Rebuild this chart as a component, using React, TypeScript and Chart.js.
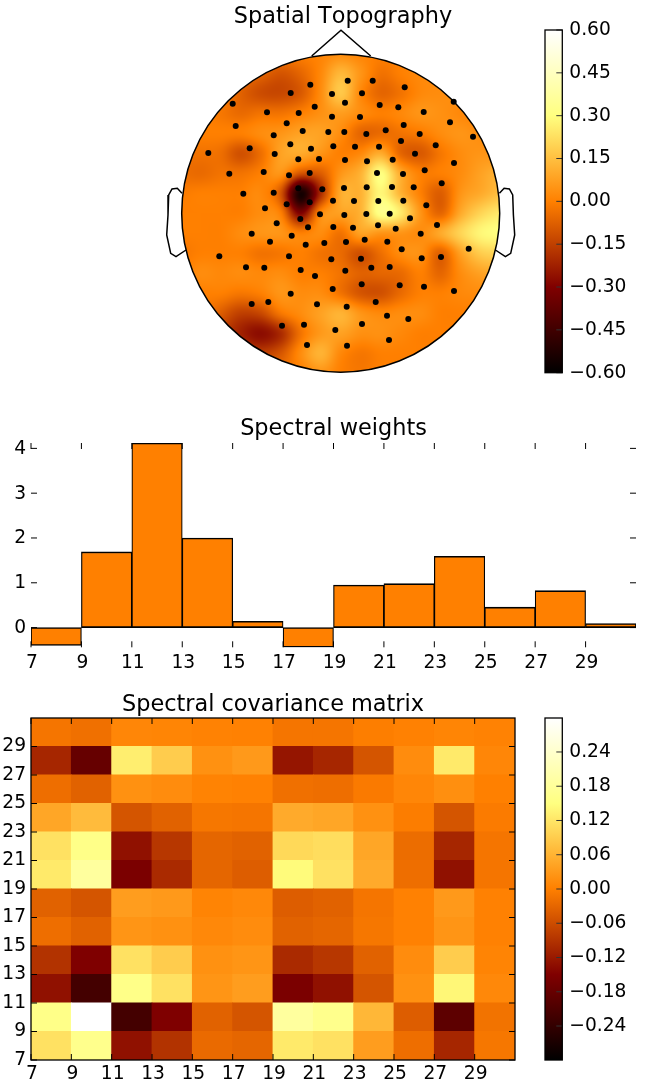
import React, { useEffect, useRef } from "react";
import { Chart, registerables } from "chart.js";

Chart.register(...registerables);

const FONT = "'DejaVu Sans'";
const TICK_SIZE = 18.67;
const TITLE_SIZE = 22.4;

// ---- Spatial topography ----
const electrodeX = [7,32,-30.4,64,-50,-8.7,21.3,-108,113,4.3,39,57.6,-73.7,-42,-26,83,-8.7,19.3,-54,109.3,63,-105,-38,-12.4,3.6,45,25.6,-67,79,132.3,60.3,-50.4,-7.4,14.3,38.3,95,-91,-29.7,-132.4,-66,74.3,-42.4,-21.7,4.3,26.3,52,113.3,-77,-111.4,-31,36.3,62.3,84,-51.7,101,3.3,26,51.3,73,-18.4,-42.4,-97.4,-67,-54,-31,-7.7,13.3,37.6,62.6,85.6,-75.7,-40.4,-20.7,3.6,25.6,49,69.3,-64,-32.7,-7.4,12.3,37.3,55,96.3,-89,-49,80,-70.7,-35,-16.4,5.3,24,46.6,61,128,-121.4,-51.7,-9.4,20.3,81,100.3,-94.7,-76.4,-40,-25.7,4.6,30.6,49,-8,21,59,83.3,113.3,-50,-89,-72.4,-23.7,6,35,46.3,67.6,-58.7,-36.7,-5.4,21.3,-33.7,6.3,48.3];
const electrodeY = [132.5,132.5,128.5,125.9,120.2,119.2,119.9,109.5,111.5,110.5,108.2,105.9,100.9,100.2,106.5,101.2,96.5,96.2,89.9,90.9,88.2,87.2,82.2,81.2,81.2,82.9,79.2,77.9,79.2,76.5,72.2,68.9,66.9,66.5,66.5,67.9,64.9,64.5,60.2,59.2,59.5,53.9,54.2,53.2,51.9,53.5,50.2,41.2,39.5,40.2,40.2,39.2,42.9,37.9,29.9,25.2,25.9,26.2,25.9,23.9,24.9,19.5,20.5,8.9,10.9,12.5,12.2,12.2,12.5,7.9,4.9,-5.8,-1.1,-1.8,-0.8,-0.5,-5.1,-10.1,-14.1,-13.8,-14.5,-12.1,-15.5,-11.8,-20.5,-22.5,-20.5,-28.5,-31.5,-29.8,-28.8,-26.5,-28.5,-36.1,-35.5,-43.1,-43.1,-46.1,-45.5,-45.1,-43.8,-54.1,-54.5,-56.8,-62.8,-57.5,-54.5,-53.8,-75.8,-71.1,-72.1,-73.5,-77.8,-80.5,-90.8,-88.8,-91.1,-93.5,-88.8,-102.5,-105.8,-112.5,-111.5,-116.8,-110.8,-131.8,-132.5,-126.8];

const noseX = [-29, 0.3, 30];
const noseY = [157.2, 182.9, 157.2];
const earX = [158.7,163.4,168.7,172,172.7,174,170,164.7,154.7];
const earY = [19.9,24.9,24.2,18.2,-1.8,-21.8,-40.1,-43.5,-36.8];
const headRadius = 159;

// Field on a grid, 20 units apart, rows from top to bottom
const fieldStep = 20;
const fieldOrigin = -160;
const fieldRows = [
  [0,0,0,0,0,0,0,.01,.03,.01,0,0,0,0,0,0,0],
  [0,0,0,-.03,-.06,-.1,-.06,.02,.13,.05,-.03,0,.02,.02,0,0,0],
  [0,0,0,-.07,-.12,-.13,-.09,.03,.17,.02,-.06,-.03,.02,.03,.03,0,0],
  [0,0,-.02,-.05,-.03,-.03,0,.04,.07,.03,0,.02,.05,.04,.02,0,0],
  [0,0,0,0,.03,.05,.08,.08,.03,-.06,-.05,-.03,-.01,.03,.05,.03,.02],
  [-.03,-.03,-.04,-.11,-.04,.08,.1,.05,0,.02,.1,-.06,-.09,-.02,.03,.05,.04],
  [-.04,-.05,-.03,-.03,0,.05,-.1,-.08,.05,.12,.3,.1,0,0,.03,.08,.12],
  [-.01,0,0,0,.02,-.1,-.55,-.2,.1,.12,.28,.12,0,-.08,.05,.1,.15],
  [0,0,0,0,.03,0,-.3,.02,.08,.12,.32,.25,.05,-.06,.1,.2,.25],
  [0,0,0,.03,.05,.05,0,.03,-.03,.08,.05,.05,.03,.1,.2,.28,.3],
  [-.02,0,0,0,-.03,-.02,0,-.03,-.05,-.11,-.04,.03,.04,-.07,.08,.18,.2],
  [0,.03,.02,.03,.02,.03,0,0,-.03,-.07,-.06,-.05,0,-.06,.03,.08,.1],
  [0,0,0,-.02,0,.05,.03,.03,-.03,-.1,-.11,-.05,0,0,.02,.03,.03],
  [0,0,-.08,-.15,-.13,-.02,.03,.08,.12,.05,.02,.03,.03,0,0,0,0],
  [0,0,-.13,-.22,-.27,-.2,-.03,.06,.08,.04,.04,.02,0,0,0,0,0],
  [0,0,-.08,-.12,-.15,-.1,.03,.12,.02,-.02,0,0,0,0,0,0,0],
  [0,0,0,0,0,-.03,0,.05,0,-.02,0,0,0,0,0,0,0],
];

const topoLimit = 0.6;
const topoTicks = [-0.6,-0.45,-0.3,-0.15,0,0.15,0.3,0.45,0.6];

// ---- Spectral weights ----
const binStarts = [7,9,11,13,15,17,19,21,23,25,27,29];
const weights = [-0.4,1.69,4.12,2.0,0.14,-0.44,0.95,0.98,1.59,0.455,0.825,0.09];
const freqTicks = [7,9,11,13,15,17,19,21,23,25,27,29];
const weightTicks = [0,1,2,3,4];

// ---- Spectral covariance, rows from 7 upward ----
const covRow7 = [.115,.165,-.13,-.09,-.025,-.03,.125,.115,.035,-.02,-.105,-.01];
const covRow9 = [.16,.30,-.22,-.15,-.035,-.05,.185,.165,.065,-.04,-.19,-.015];
const covRow11 = [-.13,-.22,.16,.115,.025,.035,-.155,-.13,-.05,.02,.14,.01];
const covRow13 = [-.09,-.15,.115,.09,.02,.025,-.10,-.085,-.035,.015,.09,.005];
const covRow15 = [-.02,-.035,.025,.02,.01,.015,-.035,-.03,-.01,.002,.025,.002];
const covRow17 = [-.035,-.05,.035,.03,.005,.01,-.04,-.035,-.012,.002,.03,.002];
const covRow19 = [.125,.185,-.155,-.10,-.03,-.04,.145,.115,.05,-.02,-.13,-.012];
const covRow21 = [.115,.16,-.13,-.085,-.03,-.035,.105,.11,.045,-.022,-.105,-.012];
const covRow23 = [.045,.07,-.05,-.035,-.01,-.012,.05,.045,.02,-.003,-.05,-.005];
const covRow25 = [-.02,-.035,.02,.015,.004,.002,-.018,-.02,-.006,.008,.018,0];
const covRow27 = [-.105,-.18,.13,.09,.02,.03,-.125,-.105,-.05,.015,.125,.008];
const covRow29 = [-.012,-.018,.008,.006,.003,.002,-.012,-.012,-.002,.002,.006,.003];
const covRows = [covRow7,covRow9,covRow11,covRow13,covRow15,covRow17,covRow19,covRow21,covRow23,covRow25,covRow27,covRow29];
const covLimit = 0.2995;
const covTicks = [-0.24,-0.18,-0.12,-0.06,0,0.06,0.12,0.18,0.24];

// ---- afmhot ----
const afmhotStops: [number, number[]][] = [
  [0, [0,0,0]], [0.25, [128,0,0]], [0.5, [255,128,0]], [0.75, [255,255,128]], [1, [255,255,255]],
];
function afmhot(t: number): number[] {
  const x = Math.min(1, Math.max(0, t));
  return [
    255 * Math.min(1, 2 * x),
    255 * Math.min(1, Math.max(0, 2 * x - 0.5)),
    255 * Math.min(1, Math.max(0, 2 * x - 1)),
  ];
}
const cssOf = (c: number[]) => `rgb(${Math.round(c[0])},${Math.round(c[1])},${Math.round(c[2])})`;

function catmull(p0: number, p1: number, p2: number, p3: number, t: number) {
  return 0.5 * (2 * p1 + (p2 - p0) * t + (2 * p0 - 5 * p1 + 4 * p2 - p3) * t * t + (3 * p1 - p0 - 3 * p2 + p3) * t * t * t);
}
function fieldAt(dx: number, dy: number) {
  const n = fieldRows.length;
  const fx = (dx - fieldOrigin) / fieldStep;
  const fy = (-dy - fieldOrigin) / fieldStep;
  const ix = Math.floor(fx), iy = Math.floor(fy);
  const get = (r: number, c: number) => fieldRows[Math.min(n - 1, Math.max(0, r))][Math.min(n - 1, Math.max(0, c))];
  const row = (r: number) => catmull(get(r, ix - 1), get(r, ix), get(r, ix + 1), get(r, ix + 2), fx - ix);
  return catmull(row(iy - 1), row(iy), row(iy + 1), row(iy + 2), fy - iy);
}

// ---- shared plugins ----
type Rect = { left: number; top: number; width: number; height: number };
type Area = { l: number; t: number; r: number; b: number };

function inwardTicks(sides: string[], len: number, color: string, lw: number) {
  return {
    id: "inwardTicks",
    afterDatasetsDraw(chart: any) {
      const { ctx, chartArea: a, scales } = chart;
      ctx.save();
      ctx.strokeStyle = color;
      ctx.lineWidth = lw;
      ctx.beginPath();
      for (const s of sides) {
        if (s === "top" || s === "bottom") {
          for (const t of scales.x.ticks) {
            const p = scales.x.getPixelForValue(t.value);
            const y0 = s === "top" ? a.top : a.bottom;
            ctx.moveTo(p, y0);
            ctx.lineTo(p, y0 + (s === "top" ? len : -len));
          }
        } else {
          for (const t of scales.y.ticks) {
            const p = scales.y.getPixelForValue(t.value);
            const x0 = s === "left" ? a.left : a.right;
            ctx.moveTo(x0, p);
            ctx.lineTo(x0 + (s === "left" ? len : -len), p);
          }
        }
      }
      ctx.stroke();
      ctx.restore();
    },
  };
}
const frame = {
  id: "frame",
  afterDatasetsDraw(chart: any) {
    const { ctx, chartArea: a } = chart;
    ctx.save();
    ctx.strokeStyle = "#000";
    ctx.lineWidth = 1.3;
    ctx.strokeRect(a.left, a.top, a.right - a.left, a.bottom - a.top);
    ctx.restore();
  },
};
const noKerning = {
  id: "noKerning",
  beforeDraw(chart: any) { chart.ctx.fontKerning = "none"; },
};
const headField = {
  id: "headField",
  beforeDatasetsDraw(chart: any) {
    const { ctx, scales } = chart;
    const cx = scales.x.getPixelForValue(0);
    const cy = scales.y.getPixelForValue(0);
    const r = Math.abs(scales.x.getPixelForValue(headRadius) - cx);
    const size = Math.ceil(2 * r) + 4;
    const x0 = Math.floor(cx - r) - 2;
    const y0 = Math.floor(cy - r) - 2;
    const off = document.createElement("canvas");
    off.width = size;
    off.height = size;
    const octx = off.getContext("2d")!;
    const img = octx.createImageData(size, size);
    for (let j = 0; j < size; j++) {
      for (let i = 0; i < size; i++) {
        const dx = scales.x.getValueForPixel(x0 + i + 0.5);
        const dy = scales.y.getValueForPixel(y0 + j + 0.5);
        const v = fieldAt(dx, dy);
        const c = afmhot((v + topoLimit) / (2 * topoLimit));
        const k = 4 * (j * size + i);
        img.data[k] = c[0];
        img.data[k + 1] = c[1];
        img.data[k + 2] = c[2];
        img.data[k + 3] = 255;
      }
    }
    octx.putImageData(img, 0, 0);
    ctx.save();
    ctx.beginPath();
    ctx.arc(cx, cy, r, 0, Math.PI * 2);
    ctx.clip();
    ctx.drawImage(off, x0, y0);
    ctx.restore();
    ctx.save();
    ctx.beginPath();
    ctx.arc(cx, cy, r, 0, Math.PI * 2);
    ctx.strokeStyle = "#000";
    ctx.lineWidth = 1.5;
    ctx.stroke();
    ctx.restore();
  },
};

const fmt = (d: number) => (v: any) => {
  const s = Number(v).toFixed(d);
  return s.startsWith("-") ? "\u2212" + s.slice(1) : s;
};
const tickFont = { family: FONT, size: TICK_SIZE };
const noMargins = (s: any) => {
  s.paddingTop = 0;
  s.paddingBottom = 0;
  s.paddingLeft = 0;
  s.paddingRight = 0;
};

function paddingFor(rect: Rect, area: Area, L: number, R: number, B: number, titleH: number) {
  return {
    left: area.l - rect.left - L,
    top: area.t - rect.top - titleH,
    right: rect.left + rect.width - area.r - R,
    bottom: rect.top + rect.height - area.b - B,
  };
}
function pinnedX(min: number, max: number, ticks: number[], height: number, padding: number) {
  return {
    type: "linear",
    min,
    max,
    offset: false,
    border: { display: false },
    grid: { display: false, drawTicks: false },
    afterBuildTicks: (s: any) => { s.ticks = ticks.map((value) => ({ value })); },
    afterFit: (s: any) => { s.height = height; noMargins(s); },
    ticks: { font: tickFont, color: "#000", padding, labelOffset: 1, autoSkip: false, maxRotation: 0, minRotation: 0, callback: fmt(0) },
  };
}
function pinnedY(min: number, max: number, ticks: number[], width: number, padding: number, position: string, labelFmt: any, labelOffset = 0) {
  return {
    type: "linear",
    position,
    min,
    max,
    border: { display: false },
    grid: { display: false, drawTicks: false },
    afterBuildTicks: (s: any) => { s.ticks = ticks.map((value) => ({ value })); },
    afterFit: (s: any) => { s.width = width; noMargins(s); },
    ticks: { font: tickFont, color: "#000", padding, labelOffset, autoSkip: false, callback: labelFmt },
  };
}
function titleOpts(text: string, gap: number) {
  return {
    display: true,
    text,
    color: "#000",
    fullSize: false,
    font: { family: FONT, size: TITLE_SIZE, weight: "normal", lineHeight: 1 },
    padding: { top: 0, bottom: gap },
  };
}
const base = {
  responsive: false,
  animation: false,
  events: [],
};

function colorbarConfig(rect: Rect, area: Area, limit: number, ticks: number[]) {
  return {
    type: "bar",
    data: {
      labels: [""],
      datasets: [{
        data: [[-limit, limit]],
        barPercentage: 1,
        categoryPercentage: 1,
        inflateAmount: 0,
        backgroundColor: (c: any) => {
          const a = c.chart.chartArea;
          if (!a) return "#ff8000";
          const g = c.chart.ctx.createLinearGradient(0, a.bottom, 0, a.top);
          for (const [p, col] of afmhotStops) g.addColorStop(p, cssOf(col));
          return g;
        },
      }],
    },
    options: {
      ...base,
      layout: { padding: paddingFor(rect, area, 0, 80, 0, 0) },
      plugins: { legend: { display: false }, tooltip: { enabled: false }, title: { display: false } },
      scales: {
        x: { display: false },
        y: pinnedY(-limit, limit, ticks, 80, 7, "right", fmt(2)),
      },
    },
    plugins: [inwardTicks(["right"], 6, "#333", 1), frame],
  };
}

export default function App() {
  const topo = useRef<HTMLCanvasElement>(null);
  const topoBar = useRef<HTMLCanvasElement>(null);
  const hist = useRef<HTMLCanvasElement>(null);
  const matrix = useRef<HTMLCanvasElement>(null);
  const matrixBar = useRef<HTMLCanvasElement>(null);

  const rects: Record<string, Rect> = {
    topo: { left: 150, top: 0, width: 386, height: 390 },
    topoBar: { left: 538, top: 18, width: 109, height: 367 },
    hist: { left: 0, top: 405, width: 647, height: 268 },
    matrix: { left: 0, top: 680, width: 525, height: 405 },
    matrixBar: { left: 538, top: 706, width: 109, height: 366 },
  };

  useEffect(() => {
    const topoArea: Area = { l: 160, t: 28, r: 526, b: 378 };
    const histArea: Area = { l: 31, t: 443, r: 636, b: 647.3 };
    const matArea: Area = { l: 31, t: 718, r: 515, b: 1060 };
    const toLine = (xs: number[], ys: number[]) => xs.map((x, i) => ({ x, y: ys[i] }));
    const lineSet = (data: any[]) => ({
      data, showLine: true, pointRadius: 0, borderColor: "#000", borderWidth: 1.5, fill: false, tension: 0,
    });

    const configs: any[] = [
      [topo, {
        type: "scatter",
        data: {
          datasets: [
            { data: toLine(electrodeX, electrodeY), pointRadius: 3, pointBorderWidth: 0, backgroundColor: "#000", showLine: false },
            lineSet(toLine(noseX, noseY)),
            lineSet(toLine(earX, earY)),
            lineSet(toLine(earX.map((v) => -v), earY)),
          ],
        },
        options: {
          ...base,
          layout: { padding: paddingFor(rects.topo, topoArea, 0, 0, 0, 22.4 + 0) },
          plugins: { legend: { display: false }, tooltip: { enabled: false }, title: titleOpts("Spatial Topography", 0) },
          scales: {
            x: { type: "linear", display: false, min: topoArea.l - 340.7, max: topoArea.r - 340.7 },
            y: { type: "linear", display: false, min: 213.2 - topoArea.b, max: 213.2 - topoArea.t },
          },
        },
        plugins: [noKerning, headField],
      }],
      [topoBar, colorbarConfig(rects.topoBar, { l: 545, t: 30, r: 562.3, b: 372.7 }, topoLimit, topoTicks)],
      [hist, {
        type: "bar",
        data: {
          datasets: [{
            data: binStarts.map((s, i) => ({ x: s + 1, y: weights[i] })),
            backgroundColor: "#ff8000",
            borderColor: "#000",
            borderWidth: { left: 1.2, right: 1.2, top: 1.6, bottom: 1.6 },
            borderSkipped: false,
            barPercentage: 1,
            categoryPercentage: 1,
            grouped: false,
          }],
        },
        options: {
          ...base,
          layout: { padding: paddingFor(rects.hist, histArea, 31, 0, 30, 22.4 + 2.5) },
          plugins: { legend: { display: false }, tooltip: { enabled: false }, title: titleOpts("Spectral weights", 2.5) },
          scales: {
            x: pinnedX(7, 31, freqTicks, 30, 5),
            y: pinnedY(-0.44, 4.12, weightTicks, 31, 5, "left", fmt(0), 0.6),
          },
        },
        plugins: [inwardTicks(["top", "bottom", "left", "right"], 6, "#000", 1)],
      }],
      [matrix, {
        type: "bar",
        data: {
          datasets: covRows.map((row, r) => ({
            data: row.map((_, c) => ({ x: binStarts[c] + 1, y: [binStarts[r], binStarts[r] + 2] })),
            backgroundColor: row.map((v) => cssOf(afmhot((v + covLimit) / (2 * covLimit)))),
            borderWidth: 0,
            inflateAmount: 0.4,
            barPercentage: 1,
            categoryPercentage: 1,
            grouped: false,
          })),
        },
        options: {
          ...base,
          layout: { padding: paddingFor(rects.matrix, matArea, 31, 0, 25, 22.4 + 1.8) },
          plugins: { legend: { display: false }, tooltip: { enabled: false }, title: titleOpts("Spectral covariance matrix", 1.8) },
          scales: {
            x: pinnedX(7, 31, freqTicks, 25, 3),
            y: pinnedY(7, 31, freqTicks, 31, 5, "left", fmt(0)),
          },
        },
        plugins: [inwardTicks(["top", "bottom", "left", "right"], 6, "#000", 1), frame],
      }],
      [matrixBar, colorbarConfig(rects.matrixBar, { l: 545, t: 718, r: 562.3, b: 1060 }, covLimit, covTicks)],
    ];
    const charts = configs.map(([ref, cfg]) => new Chart(ref.current, cfg));
    return () => charts.forEach((c) => c.destroy());
  }, []);

  const canvas = (ref: any, r: Rect) => (
    <canvas ref={ref} width={r.width} height={r.height}
      style={{ position: "absolute", left: r.left, top: r.top, width: r.width, height: r.height, display: "block" }} />
  );
  return (
    <div style={{ position: "absolute", left: 0, top: 0, width: 647, height: 1085, overflow: "hidden", background: "#fff" }}>
      {canvas(topo, rects.topo)}
      {canvas(topoBar, rects.topoBar)}
      {canvas(hist, rects.hist)}
      {canvas(matrix, rects.matrix)}
      {canvas(matrixBar, rects.matrixBar)}
    </div>
  );
}
